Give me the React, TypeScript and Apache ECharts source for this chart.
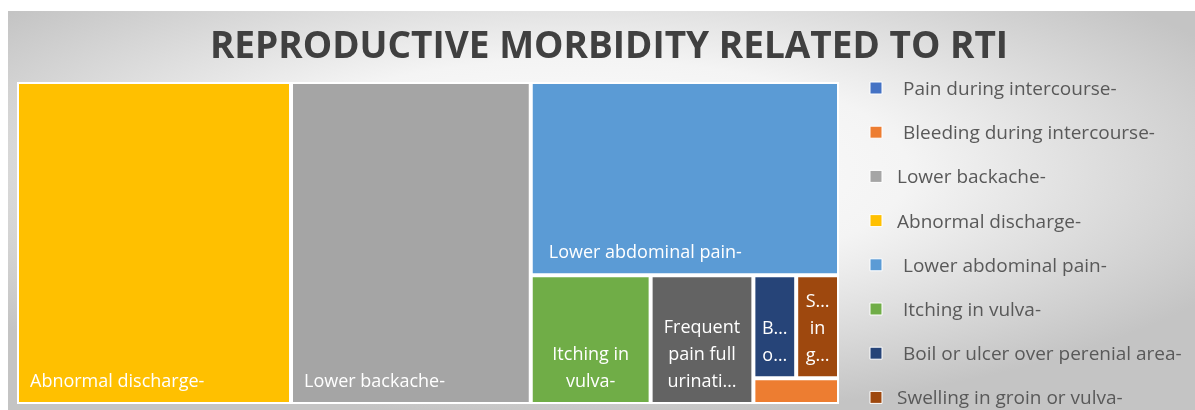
import React, { useEffect, useRef } from "react";
import * as echarts from "echarts";

const titleText = "REPRODUCTIVE MORBIDITY RELATED TO RTI";

// legend order (as in the reference legend); a leading space is kept where the source has one
const legendNames = [
  " Pain during intercourse-",
  " Bleeding during intercourse-",
  "Lower backache-",
  "Abnormal discharge-",
  " Lower abdominal pain-",
  " Itching in vulva-",
  " Boil or ulcer over perenial area-",
  "Swelling in groin or vulva-",
];

// categories, values (number of women) and colours
const categories = [
  "Pain during intercourse-",
  "Bleeding during intercourse-",
  "Lower backache-",
  "Abnormal discharge-",
  "Lower abdominal pain-",
  "Itching in vulva-",
  "Swelling in groin or vulva-",
  "Boil or ulcer over perenial area-",
  "Frequent pain full urination-",
];
const values = [0, 1, 35, 40, 27, 7, 2, 2, 6];
const colors = [
  "#4472C4",
  "#ED7D31",
  "#A5A5A5",
  "#FFC000",
  "#5B9BD5",
  "#70AD47",
  "#9E480E",
  "#264478",
  "#636363",
];
// the text shown inside each cell (as wrapped / truncated in the reference)
const cellLabels = [
  "",
  "",
  "Lower backache-",
  "Abnormal discharge-",
  "Lower abdominal pain-",
  "Itching in\nvulva-",
  "S…\nin\ng…",
  "B…\no…",
  "Frequent\npain full\nurinati…",
];
const wideCells = ["Lower backache-", "Abnormal discharge-", "Lower abdominal pain-"];

export default function App() {
  const ref = useRef<HTMLDivElement>(null);
  useEffect(() => {
    if (!ref.current) return;
    const chart = echarts.init(ref.current, null, { renderer: "svg" });
    const font = "'Open Sans', 'Noto Sans', sans-serif";
    const hasLead = (n: string) => legendNames.some((l) => l.startsWith(" ") && l.trim() === n);

    const data = categories
      .map((name, i) => ({ name, i }))
      .filter((d) => values[d.i] > 0)
      .map(({ name, i }) => {
        const wide = wideCells.includes(name);
        return {
          name,
          value: values[i],
          itemStyle: { color: colors[i] },
          label: {
            show: cellLabels[i] !== "",
            formatter: () => cellLabels[i],
            position: wide ? "insideBottomLeft" : "insideBottom",
            align: wide ? "left" : "center",
            padding: wide ? [0, 0, 9, hasLead(name) ? 16 : 11] : [0, 0, 9, 0],
          },
        };
      });

    const legendGraphics: any[] = [];
    legendNames.forEach((n, k) => {
      const y = 88 + k * 44.2;
      const ci = categories.indexOf(n.trim());
      legendGraphics.push({
        type: "rect",
        shape: { x: 870, y: y - 6, width: 12, height: 12 },
        style: { fill: colors[ci], stroke: "#ffffff", lineWidth: 1 },
      });
      legendGraphics.push({
        type: "text",
        x: n.startsWith(" ") ? 903 : 897,
        y,
        style: {
          text: n.trim(),
          font: `19px ${font}`,
          fill: "#595959",
          textVerticalAlign: "middle",
        },
      });
    });

    chart.setOption({
      animation: false,
      graphic: [
        {
          type: "rect",
          z: -10,
          shape: { x: 8, y: 11, width: 1187, height: 399 },
          style: {
            fill: new echarts.graphic.RadialGradient(0.48, 0.4, 0.62, [
              { offset: 0, color: "#ffffff" },
              { offset: 0.45, color: "#f4f4f4" },
              { offset: 1, color: "#c4c4c4" },
            ]),
          },
        },
        {
          type: "text",
          x: 609,
          y: 43,
          style: {
            text: titleText,
            font: `bold 37px ${font}`,
            fill: "#404040",
            textAlign: "center",
            textVerticalAlign: "middle",
          },
        },
        ...legendGraphics,
      ],
      series: [
        {
          type: "treemap",
          left: 17,
          top: 82,
          width: 822,
          height: 322,
          roam: false,
          nodeClick: false,
          breadcrumb: { show: false },
          squareRatio: 1.35,
          itemStyle: { borderColor: "#ffffff", borderWidth: 1, gapWidth: 2 },
          label: {
            show: true,
            color: "#ffffff",
            fontFamily: font,
            fontSize: 18,
            lineHeight: 27,
            distance: 0,
            overflow: "none",
          },
          emphasis: { disabled: true },
          data,
        },
      ],
    });
    return () => chart.dispose();
  }, []);
  return (
    <div
      ref={ref}
      style={{ position: "fixed", left: 0, top: 0, width: 1195, height: 410 }}
    />
  );
}
